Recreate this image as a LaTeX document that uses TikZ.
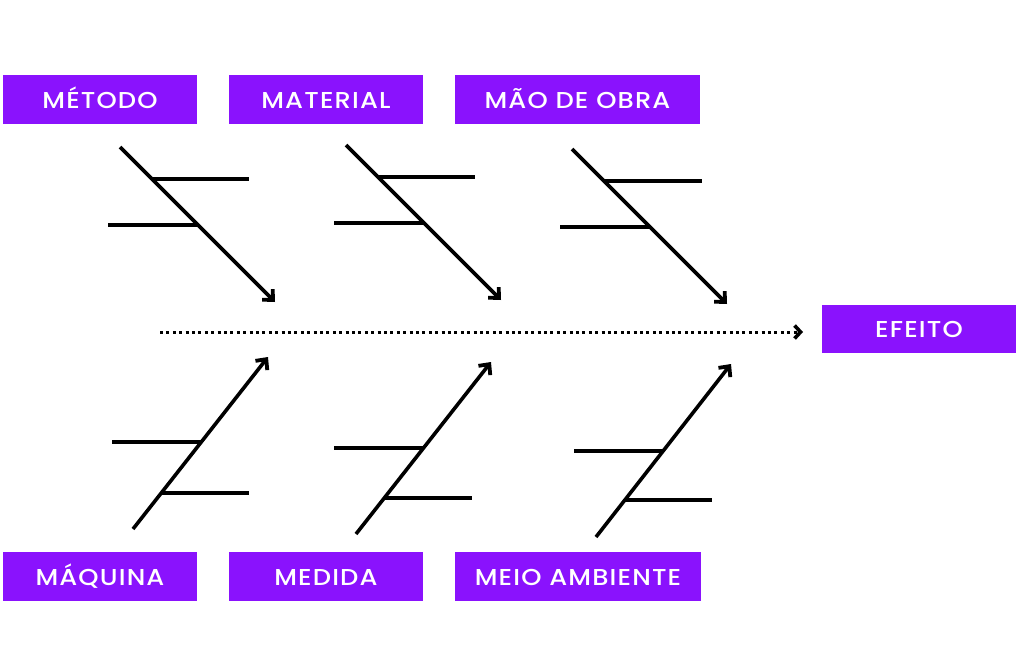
\documentclass[tikz,border=0pt]{standalone}
\usepackage{fontspec}
\setmainfont{Poppins}
\newfontfamily\catfont{Poppins}[UprightFont=* Medium, FakeStretch=1.12, LetterSpace=5]
\usetikzlibrary{arrows.meta}
\definecolor{boxpurple}{HTML}{8A12FD}
\begin{document}
\begin{tikzpicture}[x=1pt,y=-1pt,
  cat/.style={text=white,font=\catfont\fontsize{23}{27}\selectfont,inner sep=0pt,anchor=base},
  bone/.style={line width=3.6pt,-{Straight Barb[length=8pt,width=15pt,line width=3.8pt]}},
  rib/.style={line width=3.6pt},
  spine/.style={line width=3pt,dash pattern=on 3pt off 3.4pt,-{Straight Barb[length=6pt,width=13pt,line width=3.6pt]}}]
\useasboundingbox (0,0) rectangle (1024,667);
\fill[white] (0,0) rectangle (1024,667);
% boxes
\fill[boxpurple] (3,75) rectangle (197,124);
\node[cat] (metodo) at (100,108) {MÉTODO};
\fill[boxpurple] (229,75) rectangle (423,124);
\node[cat] (material) at (326,108) {MATERIAL};
\fill[boxpurple] (455,75) rectangle (700,124);
\node[cat] (maodeobra) at (577.5,108) {MÃO DE OBRA};
\fill[boxpurple] (822,305) rectangle (1016,353);
\node[cat] (efeito) at (919,337.5) {EFEITO};
\fill[boxpurple] (3,552) rectangle (197,601);
\node[cat] (maquina) at (100,585) {MÁQUINA};
\fill[boxpurple] (229,552) rectangle (423,601);
\node[cat] (medida) at (326,585) {MEDIDA};
\fill[boxpurple] (455,552) rectangle (701,601);
\node[cat] (meio) at (578,585) {MEIO AMBIENTE};
% spine
\coordinate (s0) at (160,332);
\coordinate (s1) at (803,332);
\draw[spine] (s0) -- (s1);
% top bones
\coordinate (a1) at (120,147); \coordinate (b1) at (275,302);
\draw[bone] (a1) -- (b1);
\coordinate (r1a) at (152,179); \coordinate (r1b) at (249,179);
\draw[rib] (r1a) -- (r1b);
\coordinate (r1c) at (108,225); \coordinate (r1d) at (198,225);
\draw[rib] (r1c) -- (r1d);
\coordinate (a2) at (346,145); \coordinate (b2) at (501,300);
\draw[bone] (a2) -- (b2);
\coordinate (r2a) at (378,177); \coordinate (r2b) at (475,177);
\draw[rib] (r2a) -- (r2b);
\coordinate (r2c) at (334,223); \coordinate (r2d) at (424,223);
\draw[rib] (r2c) -- (r2d);
\coordinate (a3) at (572,149); \coordinate (b3) at (727,304);
\draw[bone] (a3) -- (b3);
\coordinate (r3a) at (604,181); \coordinate (r3b) at (702,181);
\draw[rib] (r3a) -- (r3b);
\coordinate (r3c) at (560,227); \coordinate (r3d) at (650,227);
\draw[rib] (r3c) -- (r3d);
% bottom bones
\coordinate (c1) at (133,529); \coordinate (d1) at (268,357);
\draw[bone] (c1) -- (d1);
\coordinate (q1a) at (112,442); \coordinate (q1b) at (201,442);
\draw[rib] (q1a) -- (q1b);
\coordinate (q1c) at (162,493); \coordinate (q1d) at (249,493);
\draw[rib] (q1c) -- (q1d);
\coordinate (c2) at (356,534); \coordinate (d2) at (491,362);
\draw[bone] (c2) -- (d2);
\coordinate (q2a) at (334,448); \coordinate (q2b) at (423,448);
\draw[rib] (q2a) -- (q2b);
\coordinate (q2c) at (385,498); \coordinate (q2d) at (472,498);
\draw[rib] (q2c) -- (q2d);
\coordinate (c3) at (596,537); \coordinate (d3) at (731,364);
\draw[bone] (c3) -- (d3);
\coordinate (q3a) at (574,451); \coordinate (q3b) at (662,451);
\draw[rib] (q3a) -- (q3b);
\coordinate (q3c) at (625,500); \coordinate (q3d) at (712,500);
\draw[rib] (q3c) -- (q3d);
\end{tikzpicture}
\end{document}
